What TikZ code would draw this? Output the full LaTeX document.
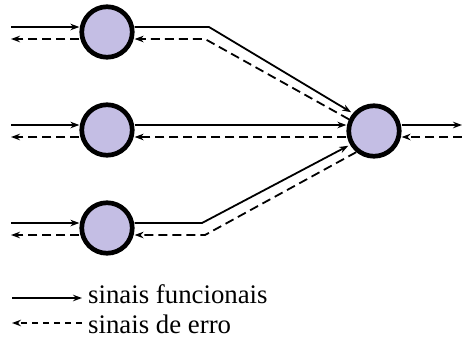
\documentclass[tikz,border=0pt]{standalone}
\usepackage{fontspec}
\setmainfont{Liberation Serif}
\usetikzlibrary{arrows.meta}
\definecolor{neuronfill}{RGB}{196,190,228}
\tikzset{
  neuron/.style={circle, draw=black, line width=4.7pt, fill=neuronfill,
    minimum size=50.5pt, inner sep=0pt},
  tip/.style={-{Stealth[length=9pt,width=6.5pt]}},
  sig/.style={tip, line width=1.8pt},
  err/.style={tip, line width=1.8pt, dash pattern=on 9pt off 5pt},
  legendtext/.style={font=\fontsize{26.8}{28}\selectfont, anchor=base west, inner sep=0pt}
}
\begin{document}
\begin{tikzpicture}[x=1pt, y=-1pt]
  \useasboundingbox (0,0) rectangle (462,338);

  % neurons
  \node[neuron] (h1) at (107,32) {};
  \node[neuron] (h2) at (107,130) {};
  \node[neuron] (h3) at (107,228) {};
  \node[neuron] (o)  at (374,131) {};

  % free ends and bends
  \coordinate (in1) at (11,27);  \coordinate (back1) at (11,39);
  \coordinate (in2) at (11,125); \coordinate (back2) at (11,137);
  \coordinate (in3) at (11,223); \coordinate (back3) at (11,235);
  \coordinate (b1s) at (209,27);  \coordinate (b1e) at (205,39);
  \coordinate (b3s) at (202,223); \coordinate (b3e) at (205,235);
  \coordinate (out) at (462,125); \coordinate (outback) at (462,137);

  % function signals (forward)
  \draw[sig] (in1) -- (in1 -| h1.west);
  \draw[sig] (in2) -- (in2 -| h2.west);
  \draw[sig] (in3) -- (in3 -| h3.west);
  \draw[sig, shorten >=2pt] (b1s -| h1.east) -- (b1s) -- (o.140);
  \draw[sig] (in2 -| h2.east) -- (in2 -| o.west);
  \draw[sig, shorten >=2pt] (b3s -| h3.east) -- (b3s) -- (o.210);
  \draw[sig] (out -| o.east) -- (out);

  % error signals (backward)
  \draw[err] (back1 -| h1.west) -- (back1);
  \draw[err] (back2 -| h2.west) -- (back2);
  \draw[err] (back3 -| h3.west) -- (back3);
  \draw[err] (o.155) -- (b1e) -- (b1e -| h1.east);
  \draw[err] (back2 -| o.west) -- (back2 -| h2.east);
  \draw[err] (o.230) -- (b3e) -- (b3e -| h3.east);
  \draw[err] (outback) -- (outback -| o.east);

  % legend
  \node[legendtext] (l1) at (88,303) {sinais funcionais};
  \node[legendtext] (l2) at (88,333) {sinais de erro};
  \coordinate (k1) at (12,298); \coordinate (k2) at (12,323);
  \draw[sig] (k1) -- ([xshift=-6pt]k1 -| l1.west);
  \draw[err, dash pattern=on 6pt off 5pt] ([xshift=-6pt]k2 -| l2.west) -- (k2);
\end{tikzpicture}
\end{document}
